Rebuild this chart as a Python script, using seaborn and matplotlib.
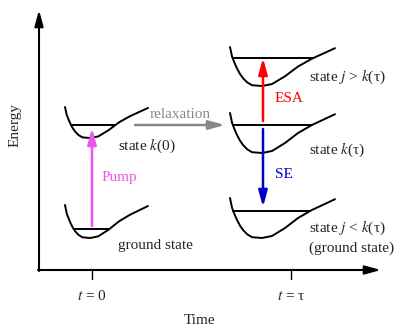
import numpy as np
import matplotlib
matplotlib.use('Agg')
import matplotlib.pyplot as plt
import seaborn as sns
import pandas as pd

# Well outline (x: 0..1 across, y: 0 top .. 1 bottom)
WELL_X = [0.0, 0.02, 0.045, 0.067, 0.095, 0.124, 0.165, 0.21, 0.305, 0.40,
          0.524, 0.648, 0.78, 0.886, 1.0]
WELL_Y = [0.0, 0.25, 0.42, 0.55, 0.69, 0.80, 0.91, 0.98, 1.0, 0.95,
          0.75, 0.50, 0.30, 0.17, 0.03]

# One row per potential well (pixel units of the 400x328 picture)
WELL_NAMES = ["k0", "ground", "j_up", "k_tau", "j_down"]
WELL_LEFT = [65, 65, 230, 230, 230]
WELL_TOP = [107, 205, 47, 113, 198]
WELL_WIDTH = [83, 83, 105, 105, 105]
WELL_DEPTH = [31, 33, 39, 40, 40]
WELL_LEVEL = [125, 229, 58, 125, 211]

# Transition arrows: (x, start y, end y)
ARROW_NAMES = ["Pump", "ESA", "SE"]
ARROW_X = [92, 263, 263]
ARROW_FROM = [226, 121, 129]
ARROW_TO = [128, 58, 207]
ARROW_COLORS = ['#EE55EE', '#FF0000', '#0000CC']
ARROW_LABEL_POS = [(102, 177), (275, 98), (275, 175)]

STATE_LABELS = ["state $k$(0)", "ground state", "state $j$ > $k$(τ)",
                "state $k$(τ)", "state $j$ < $k$(τ)", "(ground state)"]
STATE_LABEL_POS = [(118, 146), (118, 245), (309, 77), (309, 150),
                   (309, 228), (309, 248)]

TICK_LABELS = ["$t$ = 0", "$t$ = τ"]
TICK_X = [92, 291]

FS = 11

sns.set_theme(style='white')
plt.rcParams['font.family'] = ['Liberation Serif', 'DejaVu Serif']
plt.rcParams['mathtext.fontset'] = 'stix'

fig = plt.figure(figsize=(4.0, 3.28), dpi=100)
ax = fig.add_axes([0, 0, 1, 1])
ax.set_xlim(0, 400)
ax.set_ylim(328, 0)
ax.axis('off')

wx = np.array(WELL_X)
wy = np.array(WELL_Y)
imin = int(np.argmax(wy))

rows = []
for name, x0, y0, w, d in zip(WELL_NAMES, WELL_LEFT, WELL_TOP, WELL_WIDTH, WELL_DEPTH):
    for i, (px, py) in enumerate(zip(wx, wy)):
        rows.append({'well': name, 'i': i, 'x': x0 + px * w, 'y': y0 + py * d})
df = pd.DataFrame(rows)

for name in WELL_NAMES:
    sub = df[df.well == name]
    sns.lineplot(data=sub, x='x', y='y', sort=False, estimator=None,
                 color='black', lw=1.4, ax=ax)

# vibrational level lines, bounded by the well walls
for x0, y0, w, d, lev in zip(WELL_LEFT, WELL_TOP, WELL_WIDTH, WELL_DEPTH, WELL_LEVEL):
    r = (lev - y0) / d
    xl = np.interp(r, wy[:imin + 1], wx[:imin + 1])
    xr = np.interp(r, wy[imin:][::-1], wx[imin:][::-1])
    ax.plot([x0 + xl * w, x0 + xr * w], [lev, lev], color='black', lw=1.4)

# axes of the diagram
head = '-|>,head_length=0.8,head_width=0.22'
ax.annotate('', xy=(39, 10), xytext=(39, 271),
            arrowprops=dict(arrowstyle=head, color='black', lw=1.5, shrinkA=0, shrinkB=0))
ax.annotate('', xy=(381, 270), xytext=(38, 270),
            arrowprops=dict(arrowstyle=head, color='black', lw=1.5, shrinkA=0, shrinkB=0))
for tx, lab in zip(TICK_X, TICK_LABELS):
    ax.plot([tx, tx], [270, 279], color='black', lw=1.0)
    ax.text(tx, 296, lab, ha='center', va='center', fontsize=FS)

ax.text(200, 320, "Time", ha='center', va='center', fontsize=FS)
ax.text(15, 125, "Energy", ha='center', va='center', rotation=90, fontsize=FS)

for name, x, y1, y2, c, (lx, ly) in zip(ARROW_NAMES, ARROW_X, ARROW_FROM, ARROW_TO,
                                          ARROW_COLORS, ARROW_LABEL_POS):
    ax.annotate('', xy=(x, y2), xytext=(x, y1),
                arrowprops=dict(arrowstyle=head, color=c, lw=1.8, shrinkA=0, shrinkB=0))
    ax.text(lx, ly, name, color=c, ha='left', va='center', fontsize=FS)

# relaxation
ax.annotate('', xy=(225, 125), xytext=(135, 125),
            arrowprops=dict(arrowstyle=head, color='#888888', lw=1.8, shrinkA=0, shrinkB=0))
ax.text(180, 115, "relaxation", color='#888888', ha='center', va='center', fontsize=FS)

for lab, (lx, ly) in zip(STATE_LABELS, STATE_LABEL_POS):
    ax.text(lx, ly, lab, ha='left', va='center', fontsize=FS)

plt.savefig('out.png', dpi=100)
plt.close()
